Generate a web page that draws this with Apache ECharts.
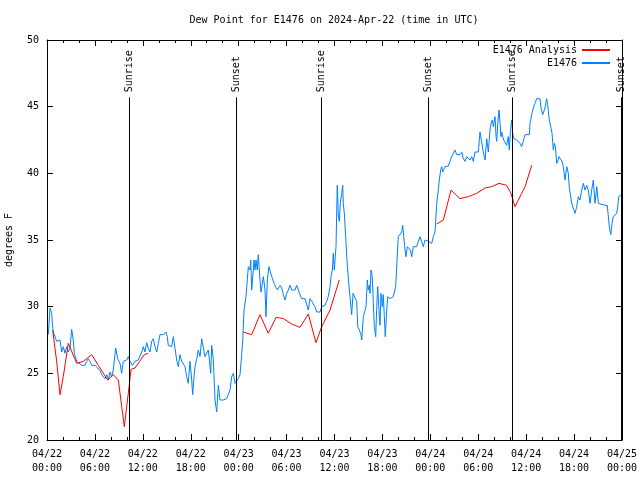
<!DOCTYPE html>
<html><head><meta charset="utf-8">
<script src="https://cdn.jsdelivr.net/npm/echarts@6/dist/echarts.min.js"></script>
<style>html,body{margin:0;padding:0;background:#fff}#c{width:640px;height:480px}</style>
</head><body><div id="c"></div>
<script>
const titleText = 'Dew Point for E1476 on 2024-Apr-22 (time in UTC)';
const yAxisName = 'degrees F';
const seriesNames = ['E1476 Analysis', 'E1476'];
// hours since 2024-04-22 00:00 UTC
const sunEvents = [10.27, 23.67, 34.31, 47.71, 58.23, 71.88];
const sunLabels = ['Sunrise', 'Sunset', 'Sunrise', 'Sunset', 'Sunrise', 'Sunset'];
// [hour, dew point F]
const analysis = [
[0.71,28.25],[1.21,25.9],[1.63,23.4],[2.04,24.75],[2.67,27.25],[3.72,25.75],[4.55,25.9],[5.60,26.4],[6.42,25.6],[7.60,24.5],[8.30,24.9],[8.93,24.5],[9.68,21.0],[10.18,23.5],[10.52,25.3],[11.02,25.4],[12.18,26.4],[12.68,26.5],
[13.5,null],
[24.58,28.1],[25.63,27.9],[26.67,29.4],[27.71,28.0],[28.68,29.2],[29.59,29.1],[30.64,28.7],[31.68,28.45],[32.72,29.45],[33.68,27.3],[34.40,28.5],[35.44,29.75],[36.60,32.0],
[37.5,null],
[48.80,36.2],[49.63,36.5],[50.59,38.75],[51.72,38.1],[52.76,38.25],[53.81,38.5],[54.85,38.9],[55.69,39.0],[56.60,39.25],[57.56,39.1],[58.10,38.5],[58.60,37.5],[59.44,38.5],[59.86,39.0],[60.69,40.6]
];
const observed = [
[0.16,27.9],[0.38,29.9],[0.59,29.5],[0.66,28.8],[0.79,28.1],[1.00,28.0],[1.21,27.4],[1.41,27.3],[1.63,27.5],[1.84,26.6],[2.04,27.0],[2.25,26.5],[2.47,27.0],[2.67,26.6],[2.88,26.9],[3.09,28.3],[3.29,27.5],[3.42,26.5],[3.72,25.9],[3.92,26.0],
[4.35,25.6],[4.76,25.6],[4.97,25.9],[5.17,26.1],[5.38,25.9],[5.60,25.6],[6.01,25.6],[6.35,25.4],[6.64,25.2],[6.85,24.9],[7.26,24.6],[7.48,24.9],[7.68,24.5],[7.89,25.1],[8.10,24.75],[8.30,25.25],[8.60,26.9],[8.85,26.1],[9.14,25.75],[9.35,25.0],
[9.55,25.9],[9.77,25.75],[9.98,26.0],[10.18,26.25],[10.39,25.9],[10.68,25.6],[11.02,25.9],[11.43,26.0],[11.86,26.6],[12.06,27.0],[12.27,26.6],[12.48,27.3],[12.68,26.9],[12.90,26.6],[13.11,27.4],[13.31,27.6],[13.52,27.0],[13.74,26.6],[13.94,27.25],[14.15,27.9],
[14.36,27.75],[14.56,27.9],[14.78,28.0],[14.90,28.1],[15.06,27.75],[15.19,27.1],[15.40,27.25],[15.61,27.0],[15.82,27.75],[16.03,27.6],[16.24,26.0],[16.44,25.5],[16.65,26.4],[16.87,25.9],[17.07,26.0],[17.28,25.5],[17.49,24.75],[17.69,24.25],[17.91,25.9],[18.12,24.5],
[18.24,23.4],[18.41,24.75],[18.53,25.5],[18.75,26.1],[18.95,26.75],[19.16,26.25],[19.37,27.6],[19.57,27.6],[19.78,26.25],[20.00,26.4],[20.20,26.75],[20.32,26.1],[20.50,25.0],[20.62,27.1],[20.82,26.1],[21.04,23.0],[21.25,22.1],[21.45,24.1],[21.58,23.5],[21.66,23.0],
[21.88,22.9],[22.08,23.0],[22.50,23.1],[22.70,23.25],[22.92,23.75],[23.13,24.75],[23.33,25.0],[23.54,24.25],[23.75,24.4],[23.95,24.6],[24.17,24.9],[24.38,26.4],[24.51,27.5],[24.67,29.75],[24.92,30.75],[25.08,32.0],[25.21,33.0],[25.42,32.75],[25.51,33.5],[25.63,31.25],
[25.83,32.75],[25.92,33.5],[26.05,32.75],[26.17,33.5],[26.33,32.75],[26.46,33.9],[26.67,32.0],[26.80,31.1],[27.01,31.1],[27.09,32.25],[27.30,31.25],[27.42,29.25],[27.59,32.0],[27.80,33.0],[28.01,32.5],[28.26,32.4],[28.43,31.75],[28.68,31.6],[28.84,31.25],[29.01,31.1],
[29.18,31.6],[29.39,31.4],[29.59,30.9],[29.80,30.5],[30.02,31.0],[30.22,31.25],[30.43,31.6],[30.64,31.25],[30.84,31.4],[31.05,31.25],[31.27,31.6],[31.47,31.6],[31.68,30.9],[31.89,30.6],[32.31,30.6],[32.52,30.5],[32.72,29.75],[32.93,30.6],[33.15,30.4],[33.35,30.4],
[33.56,30.0],[33.77,29.6],[34.19,29.6],[34.40,30.0],[34.60,29.9],[34.81,30.1],[35.02,30.4],[35.22,30.75],[35.44,31.5],[35.56,32.25],[35.73,32.75],[35.85,34.0],[35.98,32.75],[36.06,33.5],[36.19,34.5],[36.28,37.25],[36.35,39.1],[36.48,36.9],[36.60,36.4],[36.73,37.75],
[36.90,38.5],[37.03,39.1],[37.10,37.75],[37.23,37.0],[37.40,35.25],[37.53,33.75],[37.65,32.75],[37.82,31.5],[37.98,30.5],[38.15,29.4],[38.32,31.0],[38.57,31.0],[38.78,30.4],[38.91,28.5],[39.11,28.5],[39.28,28.0],[39.41,27.5],[39.61,29.25],[39.82,29.25],[39.95,30.0],
[40.11,32.0],[40.23,31.25],[40.36,31.6],[40.45,31.0],[40.57,32.75],[40.73,32.25],[40.86,30.25],[40.99,28.5],[41.16,27.75],[41.29,30.0],[41.41,31.5],[41.57,29.75],[41.70,28.6],[41.82,31.0],[41.99,30.0],[42.11,30.9],[42.24,29.25],[42.36,27.75],[42.54,29.75],[42.66,30.75],
[42.95,30.6],[43.16,30.5],[43.36,30.75],[43.66,31.5],[43.83,33.5],[43.99,35.25],[44.20,35.4],[44.42,35.6],[44.54,36.1],[44.67,36.25],[44.83,34.25],[44.95,33.75],[45.12,34.5],[45.33,34.4],[45.49,34.25],[45.67,33.75],[45.87,34.5],[46.29,34.5],[46.49,34.9],[46.71,35.25],
[46.92,35.25],[47.12,34.5],[47.33,35.0],[47.54,35.0],[47.74,34.9],[48.17,34.75],[48.37,35.25],[48.59,35.6],[48.80,37.75],[49.00,38.75],[49.12,39.5],[49.30,40.25],[49.42,40.5],[49.55,40.1],[49.67,40.25],[49.84,40.5],[50.25,40.55],[50.46,40.9],[50.68,41.25],[50.88,41.5],
[51.09,41.75],[51.30,41.4],[51.50,41.5],[51.72,41.4],[51.93,41.6],[52.13,41.1],[52.34,40.9],[52.55,41.25],[52.76,41.1],[52.97,41.0],[53.18,41.25],[53.38,40.9],[53.59,41.6],[53.81,41.5],[54.01,41.6],[54.22,43.1],[54.43,43.25],[54.63,41.6],[54.85,41.0],[55.06,42.6],
[55.18,42.75],[55.26,41.6],[55.47,43.25],[55.60,43.75],[55.76,44.0],[55.89,43.5],[56.10,44.25],[56.23,42.75],[56.31,42.4],[56.44,43.75],[56.60,44.75],[56.73,43.75],[56.85,42.75],[56.94,43.1],[57.06,42.75],[57.19,42.5],[57.35,42.4],[57.56,42.1],[57.76,42.75],[57.89,41.75],
[58.01,43.0],[58.19,44.0],[58.31,43.0],[58.48,42.6],[58.82,42.5],[59.02,42.4],[59.23,42.25],[59.44,42.0],[59.64,42.4],[59.86,42.9],[60.40,42.9],[60.48,43.75],[60.69,44.4],[60.89,44.9],[61.11,45.25],[61.32,45.6],[61.52,45.75],[61.73,45.6],[61.86,44.9],[62.07,44.4],
[62.23,44.4],[62.36,44.9],[62.57,45.6],[62.70,45.1],[62.90,44.0],[63.11,43.4],[63.24,43.0],[63.40,41.75],[63.53,42.25],[63.65,42.0],[63.83,40.75],[63.99,41.0],[64.11,41.25],[64.33,41.4],[64.49,40.9],[64.65,40.5],[64.86,39.5],[65.08,40.5],[65.28,40.0],[65.40,38.9],
[65.58,38.25],[65.70,37.75],[65.90,37.6],[66.12,37.0],[66.33,37.5],[66.53,38.25],[66.74,38.0],[66.96,38.75],[67.16,39.25],[67.37,38.75],[67.58,39.1],[67.78,38.75],[68.00,37.75],[68.21,38.75],[68.41,39.5],[68.62,37.75],[68.84,39.0],[69.04,37.75],[69.25,37.75],[69.87,37.6],
[70.16,37.6],[70.29,36.75],[70.41,36.0],[70.59,35.4],[70.75,36.25],[70.91,36.75],[71.13,36.75],[71.34,37.0],[71.46,37.5],[71.59,38.25],[71.75,38.25],[71.88,38.4]
];

const F = 'DejaVu Sans Mono';
const chart = echarts.init(document.getElementById('c'), null, { renderer: 'canvas' });
const fmtX = v => {
  const d = 22 + Math.floor(v / 24);
  const hh = v % 24;
  return '04/' + d + '\n' + String(hh).padStart(2, '0') + ':00';
};
const lineTop = 45.7;
const lineData = sunEvents.map(t => [{ coord: [t, 20] }, { coord: [t, lineTop] }]);
const labelData = sunEvents.map((t, i) => [{ coord: [t, lineTop], name: sunLabels[i] }, { coord: [t, 50] }]);
const tickStyle = { color: '#000', width: 1 };
const xBase = {
  type: 'value', min: 0, max: 72, interval: 6,
  axisLine: { show: true, onZero: false, lineStyle: tickStyle },
  axisTick: { show: true, inside: true, length: 6, lineStyle: tickStyle },
  minorTick: { show: true, splitNumber: 3, length: 3, lineStyle: tickStyle },
  splitLine: { show: false }, minorSplitLine: { show: false }
};
const yBase = {
  type: 'value', min: 20, max: 50, interval: 5,
  axisLine: { show: true, onZero: false, lineStyle: tickStyle },
  axisTick: { show: true, inside: true, length: 6, lineStyle: tickStyle },
  splitLine: { show: false }
};
const legendBase = {
  orient: 'vertical', align: 'right', right: 30, padding: 0,
  itemWidth: 28, itemHeight: 2, icon: 'rect',
  textStyle: { fontFamily: F, fontSize: 10, color: '#000' }
};
chart.setOption({
  animation: false,
  backgroundColor: '#fff',
  title: { text: titleText, left: 329, textAlign: 'center', top: 10,
    textStyle: { fontFamily: F, fontSize: 10, fontWeight: 'normal', color: '#000' } },
  legend: [
    Object.assign({}, legendBase, { data: [seriesNames[0]], top: 45 }),
    Object.assign({}, legendBase, { data: [seriesNames[1]], top: 58 })
  ],
  grid: { left: 47, right: 18, top: 40, bottom: 40, containLabel: false, outerBoundsMode: 'none' },
  xAxis: [
    Object.assign({}, xBase, { position: 'bottom',
      axisLabel: { formatter: fmtX, color: '#000', fontFamily: F, fontSize: 10, margin: 7, lineHeight: 14, showMinLabel: true, showMaxLabel: true } }),
    Object.assign({}, xBase, { position: 'top', axisLabel: { show: false } })
  ],
  yAxis: [
    Object.assign({}, yBase, { position: 'left', name: yAxisName, nameLocation: 'middle', nameGap: 33,
      nameTextStyle: { fontFamily: F, fontSize: 10, color: '#000' },
      axisLabel: { color: '#000', fontFamily: F, fontSize: 10, margin: 8 } }),
    Object.assign({}, yBase, { position: 'right', axisLabel: { show: false } })
  ],
  series: [
    { name: seriesNames[1], type: 'line', data: observed, symbol: 'none', color: '#0080ff',
      lineStyle: { color: '#0080ff', width: 1 }, z: 2,
      markLine: { silent: true, symbol: ['none', 'none'], animation: false,
        lineStyle: { color: '#000', width: 1, type: 'solid' },
        label: { show: false },
        emphasis: { disabled: true },
        data: lineData } },
    { name: seriesNames[0], type: 'line', data: analysis, symbol: 'none', color: '#ff0000', connectNulls: false,
      lineStyle: { color: '#ff0000', width: 1 }, z: 3,
      markLine: { silent: true, symbol: ['none', 'none'], animation: false,
        lineStyle: { color: 'rgba(0,0,0,0)', width: 0, type: 'solid' },
        label: { show: true, formatter: '{b}', position: 'insideStartTop', verticalAlign: 'middle', distance: [5, 0],
          color: '#000', fontFamily: F, fontSize: 10 },
        emphasis: { disabled: true },
        data: labelData } }
  ]
});
</script>
</body></html>
